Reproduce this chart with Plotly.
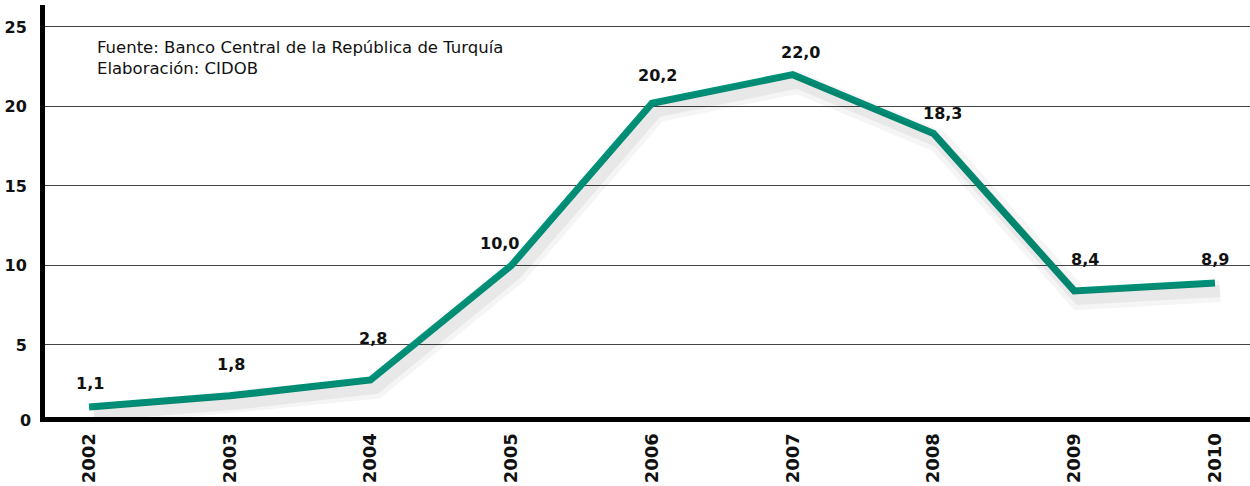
import plotly.graph_objects as go

years = [2002, 2003, 2004, 2005, 2006, 2007, 2008, 2009, 2010]
values = [1.1, 1.8, 2.8, 10.0, 20.2, 22.0, 18.3, 8.4, 8.9]
y_ticks = [5, 10, 15, 20, 25]
source_lines = ["Fuente: Banco Central de la República de Turquía", "Elaboración: CIDOB"]

# label offsets (pixels) relative to each point
label_dx = [1, 1, 2, -12, 5, 8, 9, 11, 0]
label_dy = [23, 31, 41, 22, 28, 22, 20, 31, 23]

TEAL = "#00937a"
XR = [2001.687, 2010.249]
YR = [0.47, 26.38]

fig = go.Figure()

fig.add_trace(go.Scatter(x=years, y=values, mode="lines", xaxis="x2", yaxis="y2",
                         line=dict(color="rgba(0,0,0,0.04)", width=22), hoverinfo="skip",
                         showlegend=False))
fig.add_trace(go.Scatter(x=years, y=values, mode="lines", xaxis="x2", yaxis="y2",
                         line=dict(color="rgba(0,0,0,0.05)", width=12), hoverinfo="skip",
                         showlegend=False))

fig.add_trace(go.Scatter(x=years, y=values, mode="lines",
                         line=dict(color=TEAL, width=7), showlegend=False))

for x, v, dx, dy in zip(years, values, label_dx, label_dy):
    fig.add_annotation(x=x, y=v, text=f"{v:.1f}".replace(".", ","), showarrow=False,
                       xshift=dx, yshift=dy,
                       font=dict(family="DejaVu Sans", size=16, color="#111111", weight="bold"))

zero_paper = (0 - YR[0]) / (YR[1] - YR[0])
fig.add_annotation(x=0, xref="paper", y=zero_paper, yref="paper", text="0", showarrow=False,
                   xanchor="right", yanchor="middle", xshift=-12, yshift=4,
                   font=dict(family="DejaVu Sans", size=16, color="#111111", weight="bold"))

fig.add_annotation(x=2002.04, y=24.45, xref="x", yref="y", xanchor="left", yanchor="top",
                   align="left", showarrow=False, text="<br>".join(source_lines),
                   font=dict(family="DejaVu Sans", size=16.5, color="#111111"))

px_per_unit = 412 / (YR[1] - YR[0])
sh = 8 / px_per_unit
sx = 5 * (XR[1] - XR[0]) / 1205

fig.update_layout(
    width=1250, height=486,
    margin=dict(l=45, r=0, t=5, b=69, autoexpand=False),
    paper_bgcolor="white", plot_bgcolor="white",
    showlegend=False,
    xaxis=dict(range=XR, tickvals=years, ticktext=[str(y) for y in years], tickangle=-90,
               showgrid=False, zeroline=False, showline=True, linecolor="black", linewidth=5,
               ticks="", ticklabelstandoff=4, automargin=False,
               tickfont=dict(family="DejaVu Sans", size=18, color="#111111", weight="bold")),
    yaxis=dict(range=YR, tickvals=y_ticks, ticktext=[str(t) for t in y_ticks],
               showgrid=True, gridcolor="#444444", gridwidth=1, zeroline=False,
               showline=True, linecolor="black", linewidth=5, ticks="", ticklabelstandoff=10,
               automargin=False,
               tickfont=dict(family="DejaVu Sans", size=16, color="#111111", weight="bold")),
    xaxis2=dict(range=[XR[0] - sx, XR[1] - sx], overlaying="x", visible=False),
    yaxis2=dict(range=[YR[0] + sh, YR[1] + sh], overlaying="y", visible=False),
)

fig.write_html("out.html", config={"displayModeBar": False},
               post_script="document.body.style.margin='0';document.body.style.overflow='hidden';")
